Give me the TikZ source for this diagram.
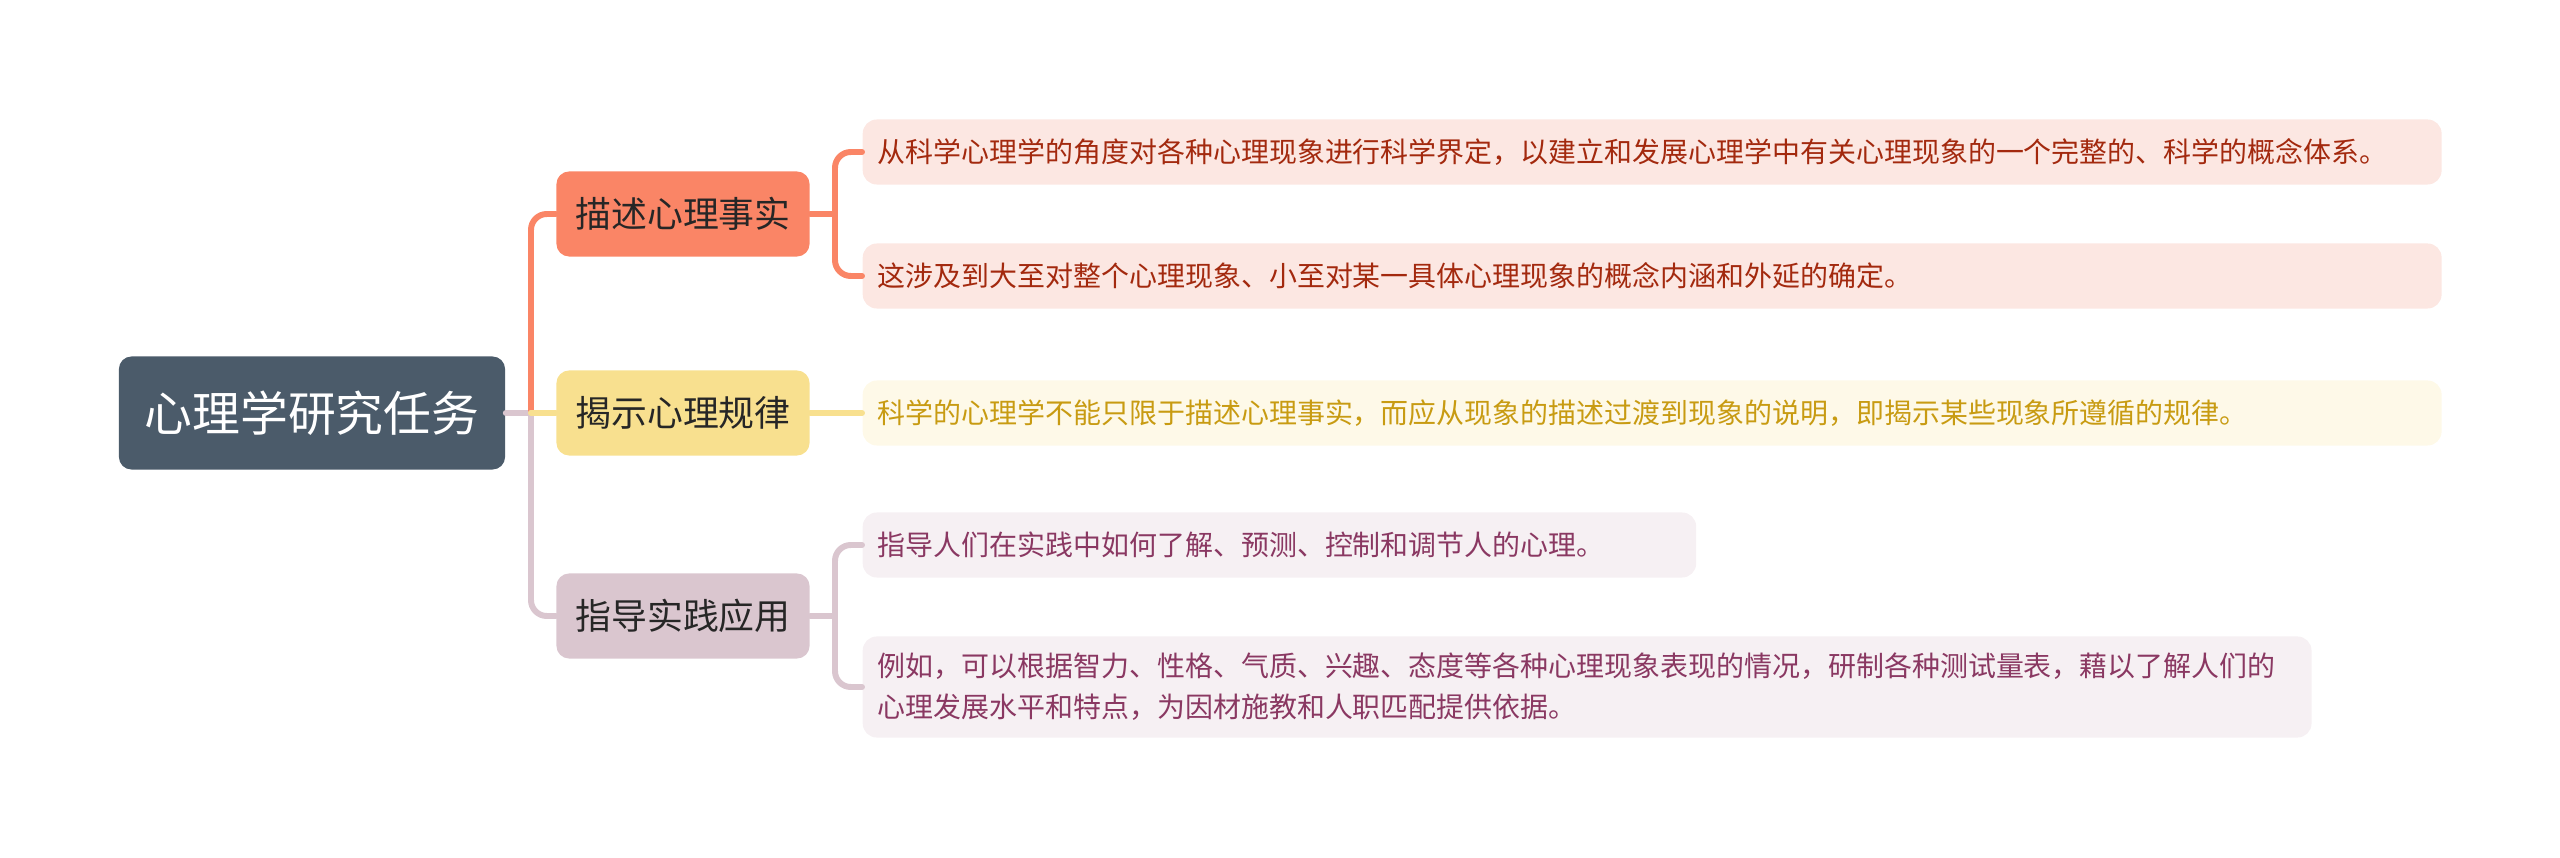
\documentclass[tikz,border=0pt]{standalone}
\usepackage{fontspec}
\setmainfont{Noto Sans CJK SC}
\definecolor{rootfill}{HTML}{4B5B6A}
\definecolor{factfill}{HTML}{FA8566}
\definecolor{lawfill}{HTML}{F8E08F}
\definecolor{usefill}{HTML}{DAC6CF}
\definecolor{factleaf}{HTML}{FCE7E2}
\definecolor{lawleaf}{HTML}{FEF9E8}
\definecolor{useleaf}{HTML}{F6F0F3}
\definecolor{facttext}{HTML}{A3290E}
\definecolor{lawtext}{HTML}{C89B12}
\definecolor{usetext}{HTML}{8A3862}
\begin{document}
\begin{tikzpicture}[x=0.01cm,y=-0.01cm,
 root/.style={fill=rootfill,text=white,rounded corners=3.6pt,font=\fontsize{13.6}{16}\selectfont,minimum width=3.86cm,minimum height=1.13cm,inner sep=0pt},
 branch/.style={rounded corners=3.6pt,text=black!85,font=\fontsize{10.2}{12}\selectfont,minimum width=2.53cm,minimum height=0.85cm,inner sep=0pt},
 leaf/.style={anchor=west,rounded corners=4pt,font=\fontsize{7.95}{11.7}\selectfont,align=left,minimum height=0.65cm,inner xsep=0.15cm,inner ysep=0pt},
 link/.style={line width=1.7pt,line cap=round},
 elbow/.style={link,rounded corners=4.5pt}]
 \useasboundingbox (0,0) rectangle (2560,858);

 \node[root] (task) at (312,413) {心理学研究任务};
 \node[branch,fill=factfill] (fact) at (683,214) {描述心理事实};
 \node[branch,fill=lawfill] (law) at (683,413) {揭示心理规律};
 \node[branch,fill=usefill] (use) at (683,616) {指导实践应用};

 \node[leaf,fill=factleaf,text=facttext,text width=15.48cm] (fact1) at (862,152) {从科学心理学的角度对各种心理现象进行科学界定，以建立和发展心理学中有关心理现象的一个完整的、科学的概念体系。};
 \node[leaf,fill=factleaf,text=facttext,text width=15.48cm] (fact2) at (862,276) {这涉及到大至对整个心理现象、小至对某一具体心理现象的概念内涵和外延的确定。};
 \node[leaf,fill=lawleaf,text=lawtext,text width=15.48cm] (law1) at (862,413) {科学的心理学不能只限于描述心理事实，而应从现象的描述过渡到现象的说明，即揭示某些现象所遵循的规律。};
 \node[leaf,fill=useleaf,text=usetext,text width=8.03cm] (use1) at (862,545) {指导人们在实践中如何了解、预测、控制和调节人的心理。};
 \node[leaf,fill=useleaf,text=usetext,text width=14.18cm,minimum height=1.01cm] (use2) at (862,687) {例如，可以根据智力、性格、气质、兴趣、态度等各种心理现象表现的情况，研制各种测试量表，藉以了解人们的\\心理发展水平和特点，为因材施教和人职匹配提供依据。};

 \coordinate (trunk) at (531,413);
 \coordinate (factjoin) at (835,214);
 \coordinate (usejoin) at (835,616);

 \draw[link,usefill] (task.east) -- (trunk);
 \draw[elbow,factfill] (trunk) |- (fact.west);
 \draw[elbow,usefill] (trunk) |- (use.west);
 \draw[link,lawfill] (trunk) -- (law.west);

 \draw[link,factfill] (fact.east) -- (factjoin);
 \draw[elbow,factfill] (factjoin) |- (fact1.west);
 \draw[elbow,factfill] (factjoin) |- (fact2.west);
 \draw[link,lawfill] (law.east) -- (law1.west);
 \draw[link,usefill] (use.east) -- (usejoin);
 \draw[elbow,usefill] (usejoin) |- (use1.west);
 \draw[elbow,usefill] (usejoin) |- (use2.west);
\end{tikzpicture}
\end{document}
